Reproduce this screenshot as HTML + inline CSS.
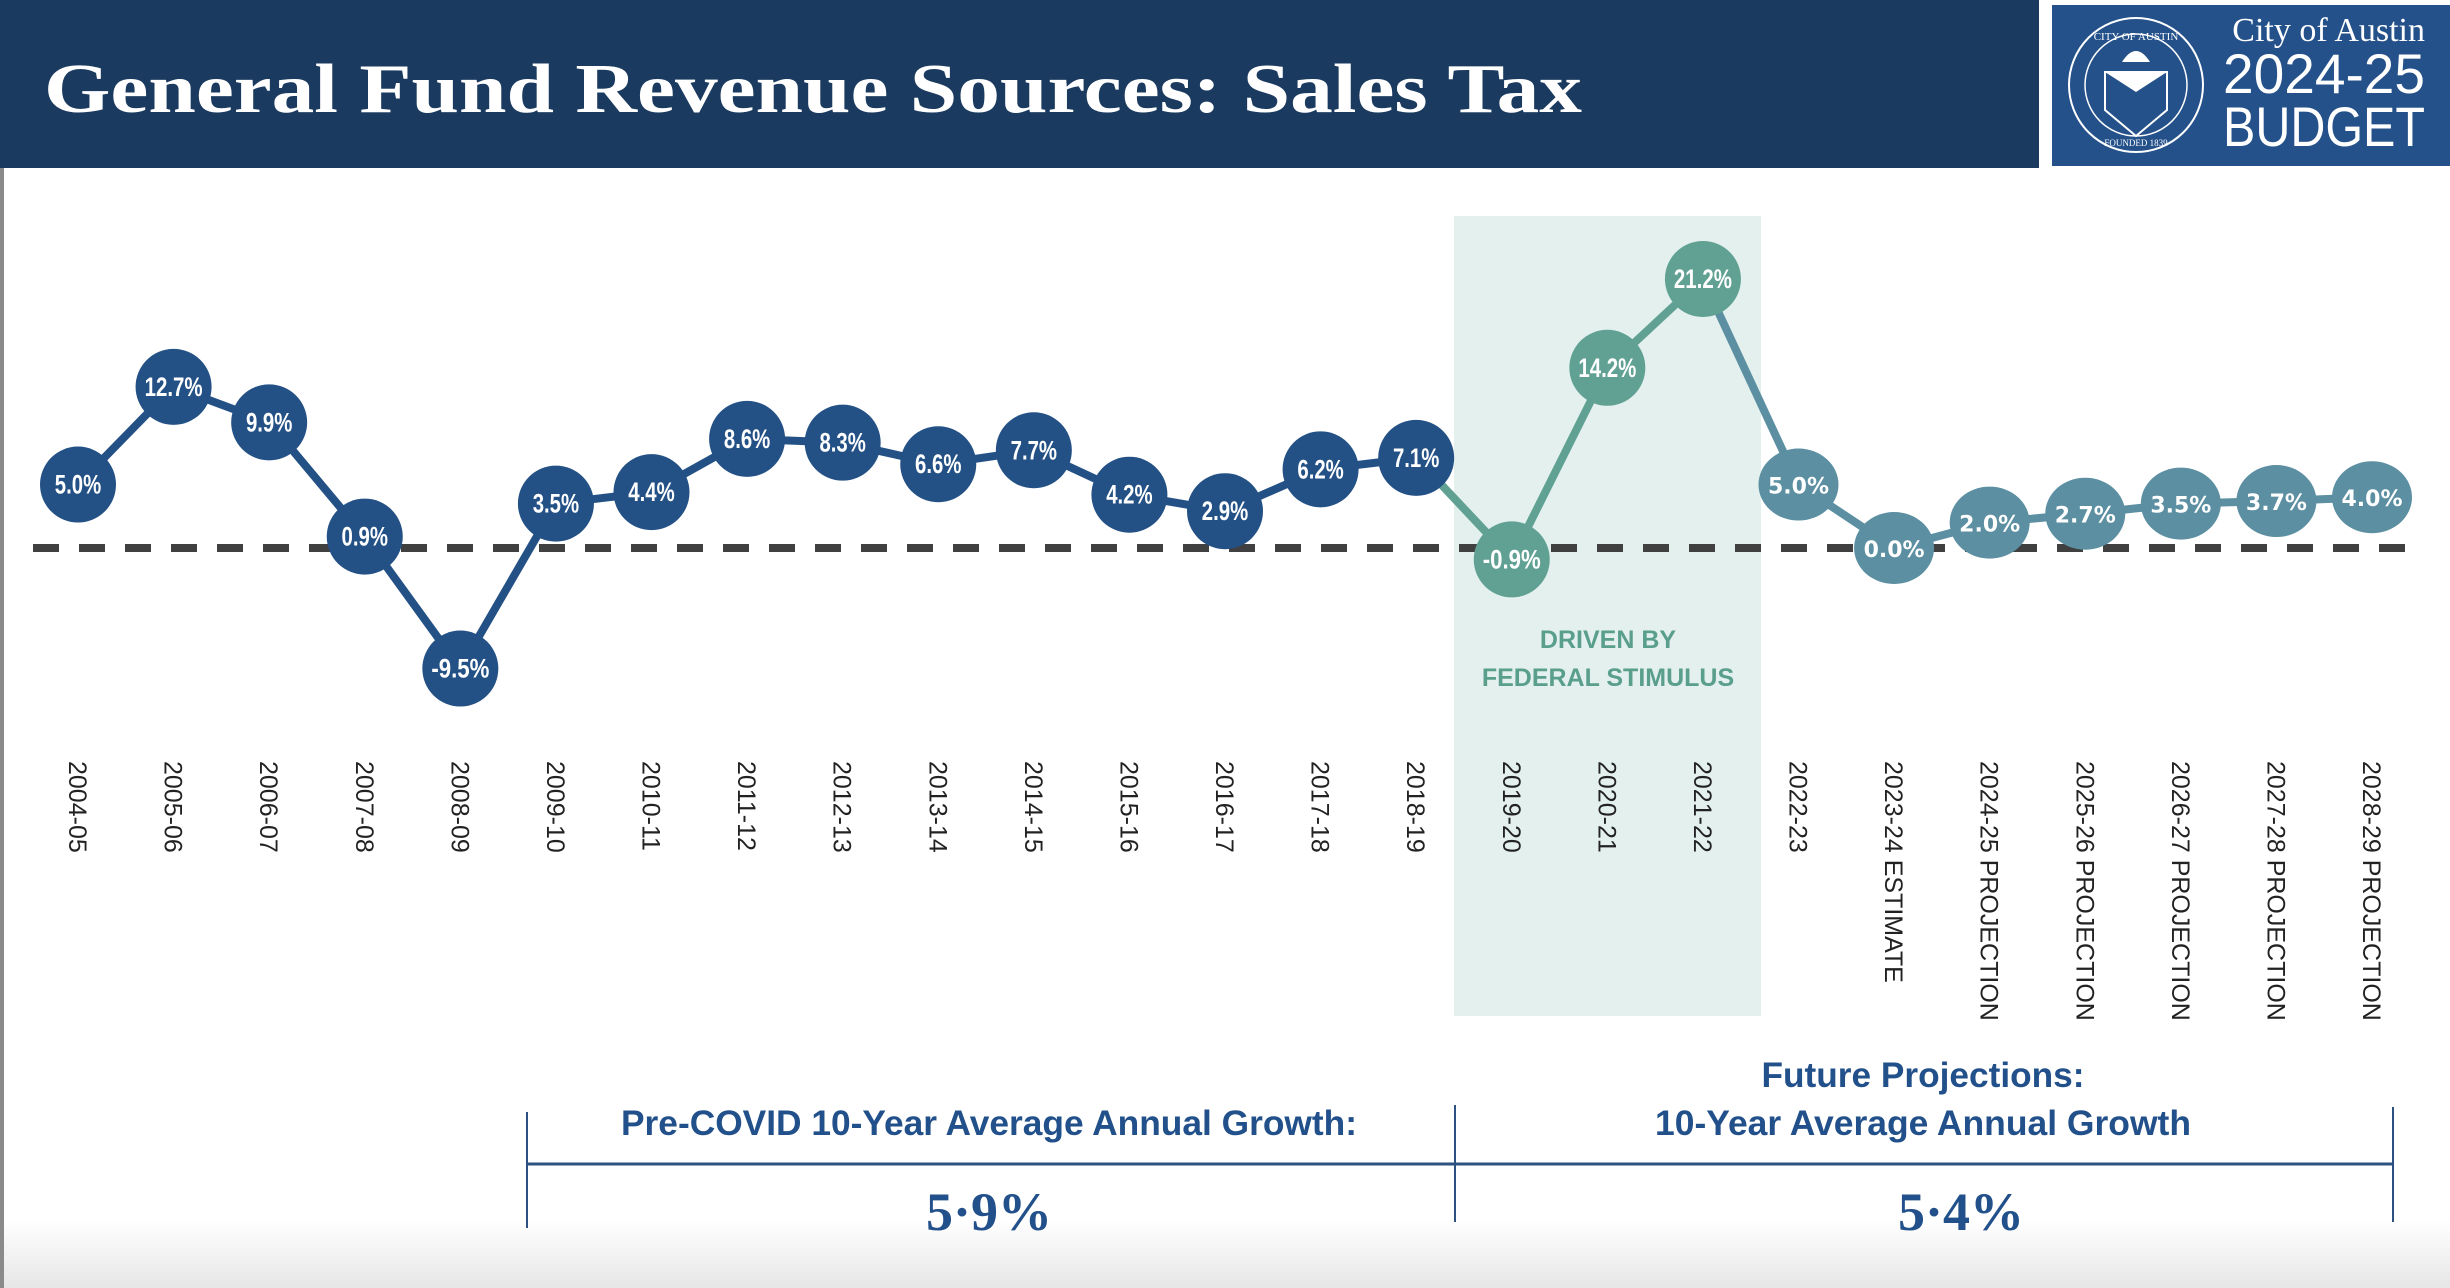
<!DOCTYPE html>
<html><head><meta charset="utf-8">
<style>
html,body{margin:0;padding:0;background:#fff;width:2450px;height:1288px;overflow:hidden}
svg{display:block}
</style></head>
<body>
<svg id="chart" width="2450" height="1288" viewBox="0 0 2450 1288" xmlns="http://www.w3.org/2000/svg">
<defs>
<linearGradient id="bot" x1="0" y1="0" x2="0" y2="1"><stop offset="0" stop-color="#fff"/><stop offset="1" stop-color="#e6e6e6"/></linearGradient>
</defs>
<rect x="0" y="0" width="2450" height="1288" fill="#fff"/>
<rect x="0" y="1220" width="2450" height="68" fill="url(#bot)"/>
<rect x="0" y="0" width="4" height="1288" fill="#8a8a8a"/>
<g>
<rect x="0" y="0" width="2039" height="168" fill="#1b3a5f"/>
<text x="44" y="112" fill="#fff" font-family="Liberation Serif, serif" font-weight="bold" font-size="70" textLength="1538" lengthAdjust="spacingAndGlyphs">General Fund Revenue Sources: Sales Tax</text>
</g>
<g>
<rect x="2052" y="5" width="398" height="161" fill="#24518a"/>
<circle cx="2136" cy="85" r="67" fill="none" stroke="#fff" stroke-width="2"/>
<circle cx="2136" cy="85" r="51" fill="none" stroke="#fff" stroke-width="1.5"/>
<path d="M2105 72 L2167 72 L2167 110 L2136 136 L2105 110 Z" fill="none" stroke="#fff" stroke-width="2"/>
<path d="M2105 72 L2167 72 L2136 92 Z" fill="#fff"/>
<path d="M2122 62 Q2136 40 2150 62 Z" fill="#fff"/>
<text x="2136" y="40" fill="#fff" font-family="Liberation Serif, serif" font-size="11" text-anchor="middle">CITY OF AUSTIN</text>
<text x="2136" y="146" fill="#fff" font-family="Liberation Serif, serif" font-size="9" text-anchor="middle">FOUNDED 1839</text>
<text x="2425" y="41" fill="#fff" font-family="Liberation Serif, serif" font-size="34" text-anchor="end">City of Austin</text>
<text x="2425" y="93" fill="#fff" font-family="Liberation Sans, sans-serif" font-size="56" text-anchor="end" textLength="202" lengthAdjust="spacingAndGlyphs">2024-25</text>
<text x="2425" y="146" fill="#fff" font-family="Liberation Sans, sans-serif" font-size="56" text-anchor="end" textLength="202" lengthAdjust="spacingAndGlyphs">BUDGET</text>
</g>
<rect x="1454" y="216" width="307" height="800" fill="#e3f0ed"/>
<text x="1608" y="648" fill="#5a9e8c" font-family="Liberation Sans, sans-serif" font-weight="bold" font-size="25" text-anchor="middle">DRIVEN BY</text>
<text x="1608" y="686" fill="#5a9e8c" font-family="Liberation Sans, sans-serif" font-weight="bold" font-size="25" text-anchor="middle">FEDERAL STIMULUS</text>
<line x1="33" y1="548" x2="2425" y2="548" stroke="#404040" stroke-width="8" stroke-dasharray="26,20"/>
<g id="series"></g>
<g id="xlabels"></g>
<g>
<line x1="527" y1="1164" x2="2393" y2="1164" stroke="#2c5282" stroke-width="3"/>
<line x1="527" y1="1112" x2="527" y2="1228" stroke="#2c5282" stroke-width="2"/>
<line x1="1455" y1="1105" x2="1455" y2="1222" stroke="#2c5282" stroke-width="2"/>
<line x1="2393" y1="1107" x2="2393" y2="1222" stroke="#2c5282" stroke-width="2"/>
<text x="989" y="1135" fill="#22508a" font-family="Liberation Sans Narrow, Liberation Sans, sans-serif" font-weight="bold" font-size="35" text-anchor="middle" textLength="736" lengthAdjust="spacingAndGlyphs">Pre-COVID 10-Year Average Annual Growth:</text>
<text x="1923" y="1087" fill="#22508a" font-family="Liberation Sans Narrow, Liberation Sans, sans-serif" font-weight="bold" font-size="35" text-anchor="middle" textLength="323" lengthAdjust="spacingAndGlyphs">Future Projections:</text>
<text x="1923" y="1135" fill="#22508a" font-family="Liberation Sans Narrow, Liberation Sans, sans-serif" font-weight="bold" font-size="35" text-anchor="middle" textLength="536" lengthAdjust="spacingAndGlyphs">10-Year Average Annual Growth</text>
<text x="989" y="1230" fill="#22508a" font-family="Liberation Serif, serif" font-weight="bold" font-size="54" text-anchor="middle">5·9%</text>
<text x="1961" y="1230" fill="#22508a" font-family="Liberation Serif, serif" font-weight="bold" font-size="54" text-anchor="middle">5·4%</text>
</g>
</svg>
<script>
const categories = ["2004-05","2005-06","2006-07","2007-08","2008-09","2009-10","2010-11","2011-12","2012-13","2013-14","2014-15","2015-16","2016-17","2017-18","2018-19","2019-20","2020-21","2021-22","2022-23","2023-24 ESTIMATE","2024-25 PROJECTION","2025-26 PROJECTION","2026-27 PROJECTION","2027-28 PROJECTION","2028-29 PROJECTION"];
const growthValues = [5.0,12.7,9.9,0.9,-9.5,3.5,4.4,8.6,8.3,6.6,7.7,4.2,2.9,6.2,7.1,-0.9,14.2,21.2,5.0,0.0,2.0,2.7,3.5,3.7,4.0];
const periodGroups = ["historic","historic","historic","historic","historic","historic","historic","historic","historic","historic","historic","historic","historic","historic","historic","stimulus","stimulus","stimulus","forecast","forecast","forecast","forecast","forecast","forecast","forecast"];

const NS = "http://www.w3.org/2000/svg";
const X0 = 78, X1 = 2372, Y0 = 548, PER = 12.69;
function xPos(i){ return X0 + (X1 - X0) * i / (categories.length - 1); }
function yPos(v){ return Y0 - v * PER; }
const colors = {historic:"#245185", stimulus:"#60a193", forecast:"#5b8fa1"};
const series = document.getElementById('series');
const xl = document.getElementById('xlabels');

for (let i = 0; i < growthValues.length - 1; i++) {
  const ln = document.createElementNS(NS,'line');
  ln.setAttribute('x1', xPos(i)); ln.setAttribute('y1', yPos(growthValues[i]));
  ln.setAttribute('x2', xPos(i+1)); ln.setAttribute('y2', yPos(growthValues[i+1]));
  ln.setAttribute('stroke', colors[periodGroups[i+1]]);
  ln.setAttribute('stroke-width', 8);
  
  
  series.appendChild(ln);
}
for (let i = 0; i < growthValues.length; i++) {
  const g = document.createElementNS(NS,'g');
  
  
  const c = document.createElementNS(NS, periodGroups[i] === 'forecast' ? 'ellipse' : 'circle');
  c.setAttribute('cx', xPos(i)); c.setAttribute('cy', yPos(growthValues[i]));
  if (periodGroups[i] === 'forecast') { c.setAttribute('rx', 40); c.setAttribute('ry', 36); }
  else c.setAttribute('r', 38);
  c.setAttribute('fill', colors[periodGroups[i]]);
  g.appendChild(c);
  const t = document.createElementNS(NS,'text');
  const label = growthValues[i].toFixed(1) + '%';
  t.setAttribute('x', xPos(i)); t.setAttribute('y', yPos(growthValues[i]) + 9);
  t.setAttribute('fill', '#fff');
  t.setAttribute('text-anchor', 'middle');
  t.setAttribute('font-weight', 'bold');
  if (periodGroups[i] === 'forecast') {
    t.setAttribute('font-family', 'DejaVu Sans, sans-serif'); t.setAttribute('font-size', 22);
  } else {
    t.setAttribute('font-family', 'Liberation Sans Narrow, Liberation Sans, sans-serif'); t.setAttribute('font-size', 27);
    t.setAttribute('textLength', label.length * 11.6);
    t.setAttribute('lengthAdjust', 'spacingAndGlyphs');
  }
  t.textContent = label;
  g.appendChild(t);
  series.appendChild(g);

  const lab = document.createElementNS(NS,'text');
  const lx = xPos(i) - 9, ly = 761;
  lab.setAttribute('transform', 'translate(' + lx + ',' + ly + ') rotate(90)');
  lab.setAttribute('font-family', 'Liberation Sans Narrow, Liberation Sans, sans-serif');
  lab.setAttribute('font-size', 25);
  lab.setAttribute('fill', '#222');
  lab.textContent = categories[i];
  
  
  xl.appendChild(lab);
}
</script>
</body></html>
